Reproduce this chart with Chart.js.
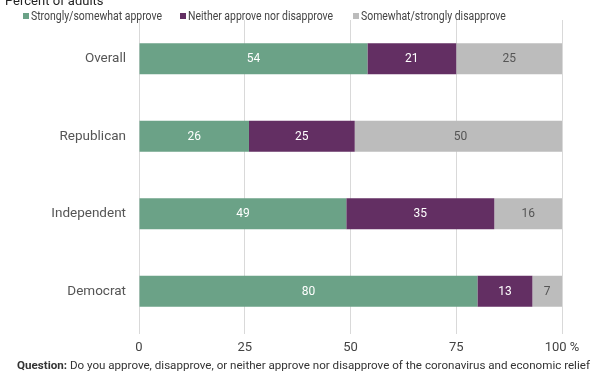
<!DOCTYPE html>
<html>
<head>
<meta charset="utf-8">
<script src="https://cdn.jsdelivr.net/npm/chart.js@4"></script>
<style>
  html, body { margin: 0; padding: 0; background: #fff; }
  #wrap { width: 612px; height: 374px; }
</style>
</head>
<body>
<div id="wrap"><canvas id="myChart" width="612" height="374"></canvas></div>
<script>
// chart data
var groups = ['Overall', 'Republican', 'Independent', 'Democrat'];
var approve = [54, 26, 49, 80];
var neither = [21, 25, 35, 13];
var disapprove = [25, 50, 16, 7];
var seriesNames = ['Strongly/somewhat approve', 'Neither approve nor disapprove', 'Somewhat/strongly disapprove'];
var xTicks = [0, 25, 50, 75, 100];

var colors = ['#6ba287', '#632f63', '#bcbcbc'];
var labelColors = ['#ffffff', '#ffffff', '#555555'];
var fontName = 'Roboto, "Liberation Sans", sans-serif';

// draws the cut-off title, the legend row and the question footer
var extras = {
    id: 'extras',
    afterDraw: function (chart) {
        var ctx = chart.ctx;
        ctx.save();
        ctx.fillStyle = '#222';
        ctx.font = '13px ' + fontName;
        ctx.textBaseline = 'alphabetic';
        ctx.textAlign = 'left';
        ctx.fillText('Percent of adults', 5, 5);

        // legend text is a bit narrow in the original, squeeze it horizontally
        var legendX = [23, 180, 353];
        ctx.font = '12px ' + fontName;
        ctx.textBaseline = 'middle';
        for (var i = 0; i < chart.data.datasets.length; i++) {
            var ds = chart.data.datasets[i];
            ctx.fillStyle = ds.backgroundColor;
            ctx.fillRect(legendX[i], 13, 6, 6);
            ctx.fillStyle = '#444';
            ctx.save();
            ctx.translate(legendX[i] + 8, 16.5);
            ctx.scale(0.87, 1);
            ctx.fillText(ds.label, 0, 0);
            ctx.restore();
        }

        ctx.font = 'bold 11.6px ' + fontName;
        ctx.fillStyle = '#333';
        var q = 'Question:';
        ctx.fillText(q, 17, 366);
        var w = ctx.measureText(q).width;
        ctx.font = '11.6px ' + fontName;
        ctx.fillText(' Do you approve, disapprove, or neither approve nor disapprove of the coronavirus and economic relief', 17 + w, 366);
        ctx.restore();
    }
};

// value labels in the middle of each bar segment
var barLabels = {
    id: 'barLabels',
    afterDatasetsDraw: function (chart) {
        var ctx = chart.ctx;
        ctx.save();
        ctx.font = '12px ' + fontName;
        ctx.textAlign = 'center';
        ctx.textBaseline = 'middle';
        chart.data.datasets.forEach(function (ds, i) {
            var meta = chart.getDatasetMeta(i);
            ctx.fillStyle = labelColors[i];
            meta.data.forEach(function (el, j) {
                ctx.fillText(ds.data[j], (el.x + el.base) / 2, el.y + 0.5);
            });
        });
        ctx.restore();
    }
};

var ctx = document.getElementById('myChart').getContext('2d');
var myChart = new Chart(ctx, {
    type: 'bar',
    data: {
        labels: groups,
        datasets: [
            { label: seriesNames[0], data: approve, backgroundColor: colors[0] },
            { label: seriesNames[1], data: neither, backgroundColor: colors[1] },
            { label: seriesNames[2], data: disapprove, backgroundColor: colors[2] }
        ]
    },
    options: {
        indexAxis: 'y',
        responsive: false,
        animation: false,
        categoryPercentage: 0.4,
        barPercentage: 1,
        layout: { padding: { left: 0, top: 20, right: 50, bottom: 20 } },
        plugins: {
            legend: { display: false },
            tooltip: { enabled: false }
        },
        scales: {
            x: {
                stacked: true,
                min: 0,
                max: 100,
                afterBuildTicks: function (scale) {
                    scale.ticks = xTicks.map(function (v) { return { value: v }; });
                },
                afterFit: function (scale) { scale.height = 24; },
                grid: { color: '#d9d9d9', lineWidth: 1, tickLength: 4, tickColor: '#d9d9d9' },
                border: { display: false },
                ticks: {
                    padding: 6,
                    color: '#444',
                    font: { family: fontName, size: 13 },
                    callback: function (v) { return v === 100 ? '100 %' : v; }
                }
            },
            y: {
                stacked: true,
                afterFit: function (scale) { scale.width = 139; },
                grid: { display: false },
                border: { display: false },
                ticks: {
                    padding: 5,
                    color: '#555',
                    font: { family: fontName, size: 13.5 }
                }
            }
        }
    },
    plugins: [extras, barLabels]
});
</script>
</body>
</html>
